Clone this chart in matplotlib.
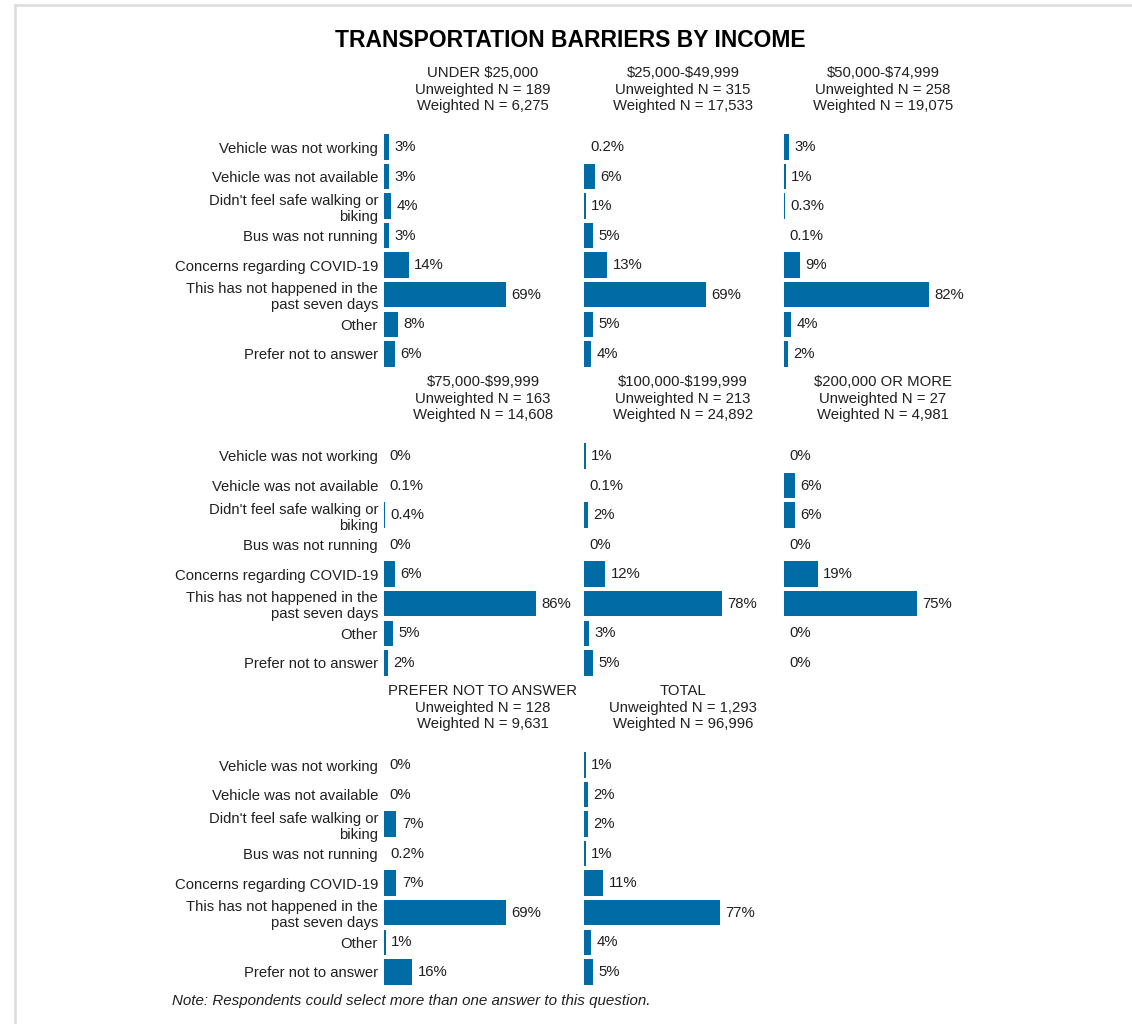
import matplotlib
matplotlib.use("Agg")
import matplotlib.pyplot as plt
from matplotlib.lines import Line2D

plt.rcParams["font.family"] = ["Liberation Sans", "DejaVu Sans"]

# answer options (same order in every panel)
categories = [
	"Vehicle was not working",
	"Vehicle was not available",
	"Didn't feel safe walking or\nbiking",
	"Bus was not running",
	"Concerns regarding COVID-19",
	"This has not happened in the\npast seven days",
	"Other",
	"Prefer not to answer",
]

panel_titles = ["UNDER $25,000", "$25,000-$49,999", "$50,000-$74,999",
	"$75,000-$99,999", "$100,000-$199,999", "$200,000 OR MORE",
	"PREFER NOT TO ANSWER", "TOTAL"]
unweighted_n = ["189", "315", "258", "163", "213", "27", "128", "1,293"]
weighted_n = ["6,275", "17,533", "19,075", "14,608", "24,892", "4,981", "9,631", "96,996"]

# percent of respondents
under_25k = [3, 3, 4, 3, 14, 69, 8, 6]
inc_25k_50k = [0.2, 6, 1, 5, 13, 69, 5, 4]
inc_50k_75k = [3, 1, 0.3, 0.1, 9, 82, 4, 2]
inc_75k_100k = [0, 0.1, 0.4, 0, 6, 86, 5, 2]
inc_100k_200k = [1, 0.1, 2, 0, 12, 78, 3, 5]
over_200k = [0, 6, 6, 0, 19, 75, 0, 0]
prefer_not = [0, 0, 7, 0.2, 7, 69, 1, 16]
total = [1, 2, 2, 1, 11, 77, 4, 5]

panel_values = [under_25k, inc_25k_50k, inc_50k_75k, inc_75k_100k,
	inc_100k_200k, over_200k, prefer_not, total]

bar_color = "#006BA4"
text_color = "#202020"
fsize = 10.7

W, H = 1132, 1024


def fx(px):
	return px / W


def fy(py):
	return 1 - py / H


fig = plt.figure(figsize=(W / 100, H / 100), dpi=100)
fig.patch.set_facecolor("white")

row_step = 29.55
panel_h = 8 * row_step
first_rows = [147, 456, 765]

for k, values in enumerate(panel_values):
	r = k // 3
	c = k % 3
	left = 384 + 200 * c
	top = first_rows[r] - row_step / 2
	ax = fig.add_axes([fx(left), fy(top + panel_h), 198 / W, panel_h / H])

	y = list(range(len(categories)))
	ax.barh(y, values, height=0.86, color=bar_color)
	for i, v in enumerate(values):
		ax.annotate("%g%%" % v, xy=(v, i), xytext=(4.0, 0), textcoords="offset points",
			ha="left", va="center", fontsize=fsize, color=text_color)

	ax.set_xlim(0, 112)
	ax.set_ylim(7.5, -0.5)
	ax.set_xticks([])
	for s in ax.spines.values():
		s.set_visible(False)
	if c == 0:
		ax.set_yticks(y)
		ax.set_yticklabels(categories, fontsize=fsize, color=text_color)
		ax.tick_params(axis="y", length=0, pad=4.3)
	else:
		ax.set_yticks([])

	header = "%s\nUnweighted N = %s\nWeighted N = %s" % (panel_titles[k], unweighted_n[k], weighted_n[k])
	fig.text(fx(left + 99), fy(top - 22), header, ha="center", va="baseline",
		multialignment="center", fontsize=fsize, color=text_color,
		linespacing=1.22, parse_math=False)

fig.text(fx(570), fy(47), "TRANSPORTATION BARRIERS BY INCOME", ha="center",
	va="baseline", fontsize=16.5, fontweight="bold", color="black")

fig.text(fx(172), fy(1005), "Note: Respondents could select more than one answer to this question.",
	ha="left", va="baseline", fontsize=10.9, fontstyle="italic", color=text_color)

# light frame of the screenshot
fig.add_artist(Line2D([fx(15), 1], [fy(5), fy(5)], color="#dcdcdc", lw=1.8))
fig.add_artist(Line2D([fx(15), fx(15)], [fy(5), 0], color="#dcdcdc", lw=1.8))

fig.savefig("out.png", dpi=100, facecolor="white")
